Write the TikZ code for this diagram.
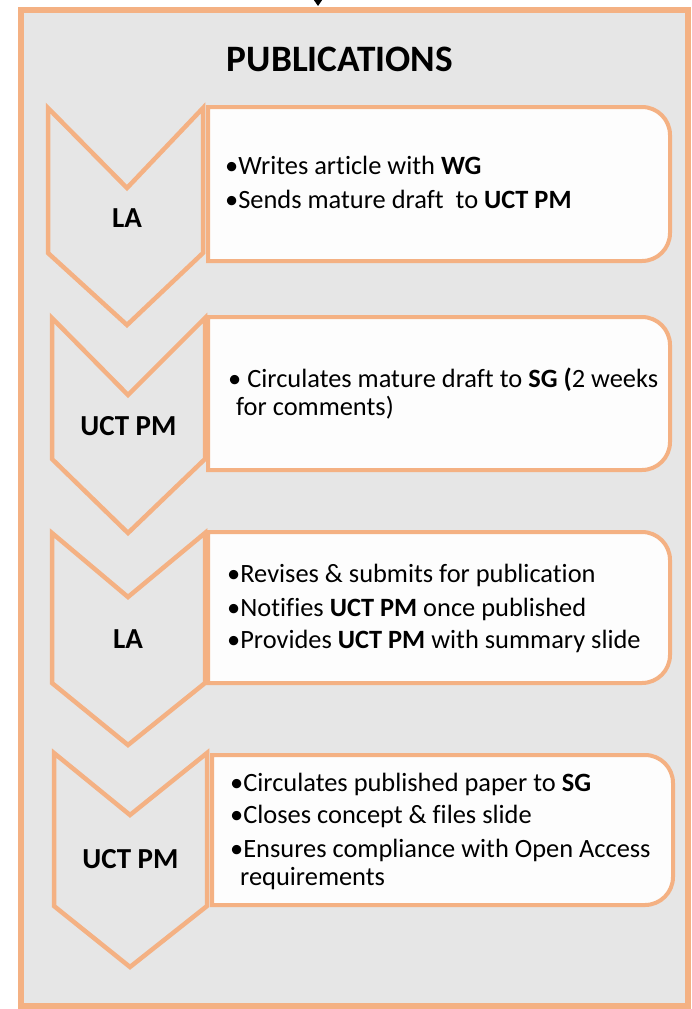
\documentclass[tikz,border=0pt]{standalone}
\usepackage{fontspec}
\setmainfont{Carlito}[Ligatures=NoCommon]
\usetikzlibrary{arrows.meta}
\definecolor{orng}{HTML}{F4B183}
\definecolor{bgray}{HTML}{E6E6E6}
\definecolor{boxw}{HTML}{FDFDFD}
\begin{document}
\begin{tikzpicture}[x=1pt,y=-1pt,
  frame/.style={draw=orng, line width=5.5pt, fill=bgray},
  chev/.style={draw=orng, line width=4.5pt, fill=bgray, line join=miter},
  stepbox/.style={draw=orng, line width=4pt, fill=boxw},
  lab/.style={font=\fontsize{29}{35}\selectfont\bfseries, anchor=base, inner sep=0pt},
  txt/.style={font=\fontsize{26.4}{31}\selectfont, anchor=base west, inner sep=0pt},
  ttl/.style={font=\fontsize{37.3}{45}\selectfont\bfseries, anchor=base, inner sep=0pt}]
\useasboundingbox (0,0) rectangle (692,1009);
% outer frame
\draw[frame] (21,10) rectangle (688,1006);
% incoming arrow
\coordinate (arrtop) at (318,-8);
\coordinate (arrend) at (318,6);
\draw[line width=1pt, -{Triangle[width=8pt,length=6pt]}] (arrtop) -- (arrend);
% title
\node[ttl] (title) at (340,71) {PUBLICATIONS};

% chevrons
\draw[chev] (48,108) -- (127,188) -- (203,108) -- (203,253) -- (127,325) -- (48,253) -- cycle;
\draw[chev] (52,318) -- (128,395) -- (205,318) -- (205,459) -- (128,533) -- (52,459) -- cycle;
\draw[chev] (52,533) -- (128,597) -- (205,533) -- (205,683) -- (128,745) -- (52,683) -- cycle;
\draw[chev] (54,753) -- (130,815) -- (207,753) -- (207,906) -- (130,967) -- (54,906) -- cycle;
\node[lab] (c1) at (127,227) {LA};
\node[lab] (c2) at (128.5,435) {UCT PM};
\node[lab] (c3) at (128,648) {LA};
\node[lab] (c4) at (130.5,868) {UCT PM};

% boxes
\draw[stepbox] (208,107) -- (642,107) arc[start angle=90,end angle=0,radius=28pt] -- (670,233) arc[start angle=0,end angle=-90,radius=28pt] -- (208,261) -- cycle;
\draw[stepbox] (208,317) -- (642,317) arc[start angle=90,end angle=0,radius=28pt] -- (670,442) arc[start angle=0,end angle=-90,radius=28pt] -- (208,470) -- cycle;
\draw[stepbox] (208,532) -- (642,532) arc[start angle=90,end angle=0,radius=28pt] -- (670,655) arc[start angle=0,end angle=-90,radius=28pt] -- (208,683) -- cycle;
\draw[stepbox] (212,755) -- (645,755) arc[start angle=90,end angle=0,radius=28pt] -- (673,877) arc[start angle=0,end angle=-90,radius=28pt] -- (212,905) -- cycle;

% box texts
\node[txt] (t11) at (225,174) {•Writes article with \textbf{WG}};
\node[txt] (t12) at (225,208) {•Sends mature draft\ \ to \textbf{UCT PM}};
\node[txt] (t21) at (228,387) {• Circulates mature draft to \textbf{SG (}2 weeks};
\node[txt] (t22) at (236,415) {for comments)};
\node[txt] (t31) at (227,582) {•Revises \& submits for publication};
\node[txt] (t32) at (227,616) {•Notifies \textbf{UCT PM} once published};
\node[txt] (t33) at (227,648) {•Provides \textbf{UCT PM} with summary slide};
\node[txt] (t41) at (230,791) {•Circulates published paper to \textbf{SG}};
\node[txt] (t42) at (230,823) {•Closes concept \& files slide};
\node[txt] (t43) at (230,857) {•Ensures compliance with Open Access};
\node[txt] (t44) at (240,885) {requirements};
\end{tikzpicture}
\end{document}
